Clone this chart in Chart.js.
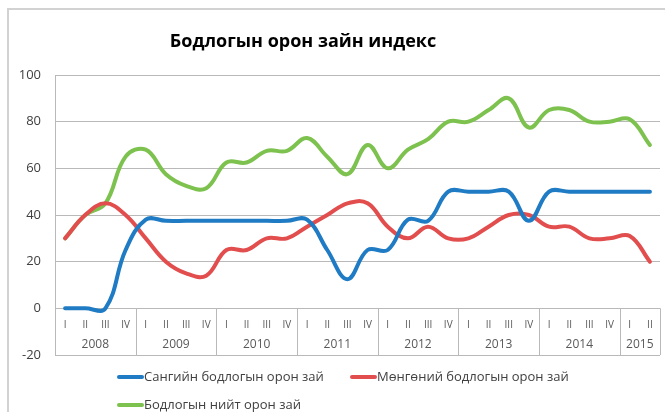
<!DOCTYPE html>
<html>
<head>
<meta charset="utf-8">
<script src="https://cdn.jsdelivr.net/npm/chart.js@4/dist/chart.umd.min.js"></script>
<style>
  html, body { margin: 0; padding: 0; background: #fff; }
  #wrap { width: 665px; height: 412px; position: relative; }
</style>
</head>
<body>
<div id="wrap"><canvas id="chart"></canvas></div>
<script>
// ── Data ──────────────────────────────────────────────────
const yearLabels    = ['2008', '2009', '2010', '2011', '2012', '2013', '2014', '2015'];
const quarterLabels = ['I','II','III','IV', 'I','II','III','IV', 'I','II','III','IV', 'I','II','III','IV',
                       'I','II','III','IV', 'I','II','III','IV', 'I','II','III','IV', 'I','II'];
const yTicks = [-20, 0, 20, 40, 60, 80, 100];

const seriesNames = ['Сангийн бодлогын орон зай', 'Мөнгөний бодлогын орон зай', 'Бодлогын нийт орон зай'];
const fiscalSpace = [0, 0, 0, 25, 38, 37.5, 37.5, 37.5, 37.5, 37.5, 37.5, 37.5, 38, 25, 12.5, 25,
                     25, 38, 37.5, 50, 50, 50, 50, 37.5, 50, 50, 50, 50, 50, 50];
const monetarySpace = [30, 40, 45, 40, 30, 20, 15, 14, 25, 25, 30, 30, 35, 40, 45, 45,
                       35, 30, 35, 30, 30, 35, 40, 40, 35, 35, 30, 30, 31, 20];
const totalSpace = [30, 40, 45, 65, 68, 57.5, 52.5, 51.5, 62.5, 62.5, 67.5, 67.5, 73, 65, 57.5, 70,
                    60, 68, 72.5, 80, 80, 85, 90, 77.5, 85, 85, 80, 80, 81, 70];
const titleText = 'Бодлогын орон зайн индекс';

// ── Styling ───────────────────────────────────────────────
const COLORS = ['#1f7bc3', '#e24e4e', '#7dc24f'];
const GRID   = '#b9b9b9';
const TXT    = '#404040';
const FONT   = "'Open Sans', sans-serif";

const categories = quarterLabels.map((q, i) => yearLabels[Math.floor(i / 4)] + ' ' + q);

// outer frame + title
const framePlugin = {
  id: 'frame',
  beforeDraw(chart) {
    const { ctx } = chart;
    ctx.save();
    ctx.strokeStyle = '#d2d2d2';
    ctx.lineWidth = 2;
    ctx.beginPath();
    ctx.moveTo(8, 412); ctx.lineTo(8, 9); ctx.lineTo(665, 9);
    ctx.stroke();
    ctx.fillStyle = '#000';
    ctx.font = "bold 18px " + FONT;
    ctx.textAlign = 'center';
    ctx.textBaseline = 'middle';
    ctx.fillText(titleText, 303, 42);
    ctx.restore();
  },
};

// category table below the zero line
const tablePlugin = {
  id: 'catTable',
  beforeDatasetsDraw(chart) {
    const { ctx, chartArea: a, scales: { x, y } } = chart;
    const y0 = y.getPixelForValue(0), yb = y.getPixelForValue(-20);
    ctx.save();
    ctx.strokeStyle = GRID;
    ctx.lineWidth = 1;
    const seps = [a.left];
    for (let k = 4; k < quarterLabels.length; k += 4)
      seps.push((x.getPixelForValue(k - 1) + x.getPixelForValue(k)) / 2);
    seps.push(a.right);
    ctx.beginPath();
    seps.forEach(sx => { ctx.moveTo(Math.round(sx) + 0.5, y0); ctx.lineTo(Math.round(sx) + 0.5, yb); });
    ctx.stroke();

    ctx.fillStyle = '#595959';
    ctx.textAlign = 'center';
    ctx.textBaseline = 'middle';
    ctx.font = "10px " + FONT;
    quarterLabels.forEach((q, i) => ctx.fillText(q, x.getPixelForValue(i), y0 + 17));
    ctx.font = "12px " + FONT;
    yearLabels.forEach((yr, j) => ctx.fillText(yr, (seps[j] + seps[j + 1]) / 2, yb - 10));
    ctx.restore();
  },
};

// legend laid out like the original (rows left-aligned)
const legendPlugin = {
  id: 'leftLegend',
  afterDraw(chart) {
    const { ctx } = chart;
    const spots = [[117, 377], [350, 377], [117, 405]];
    ctx.save();
    ctx.font = "13px " + FONT;
    ctx.textBaseline = 'middle';
    ctx.lineCap = 'round';
    chart.data.datasets.forEach((ds, i) => {
      const [lx, ly] = spots[i];
      ctx.strokeStyle = ds.borderColor;
      ctx.lineWidth = 4;
      ctx.beginPath(); ctx.moveTo(lx + 2, ly); ctx.lineTo(lx + 25, ly); ctx.stroke();
      ctx.fillStyle = TXT;
      ctx.fillText(ds.label, lx + 27, ly);
    });
    ctx.restore();
  },
};

new Chart(document.getElementById('chart'), {
  type: 'line',
  data: {
    labels: categories,
    datasets: [fiscalSpace, monetarySpace, totalSpace].map((d, i) => ({
      label: seriesNames[i],
      data: d,
      borderColor: COLORS[i],
      backgroundColor: COLORS[i],
      borderWidth: 4,
      tension: 0.4,
      pointRadius: 0,
      fill: false,
      borderCapStyle: 'round',
    })),
  },
  options: {
    responsive: true,
    maintainAspectRatio: false,
    animation: false,
    layout: { padding: { left: 7, top: 75, right: 5, bottom: 57 } },
    plugins: { legend: { display: false }, title: { display: false }, tooltip: { enabled: false } },
    scales: {
      x: { display: false, offset: true },
      y: {
        min: -20, max: 100,
        afterFit: s => { s.width = 48; },
        afterBuildTicks: s => { s.ticks = yTicks.map(v => ({ value: v })); },
        grid: { color: GRID, drawTicks: false },
        border: { display: true, color: GRID },
        ticks: { color: TXT, font: { size: 13, family: FONT }, padding: 14 },
      },
    },
  },
  plugins: [framePlugin, tablePlugin, legendPlugin],
});
</script>
</body>
</html>
